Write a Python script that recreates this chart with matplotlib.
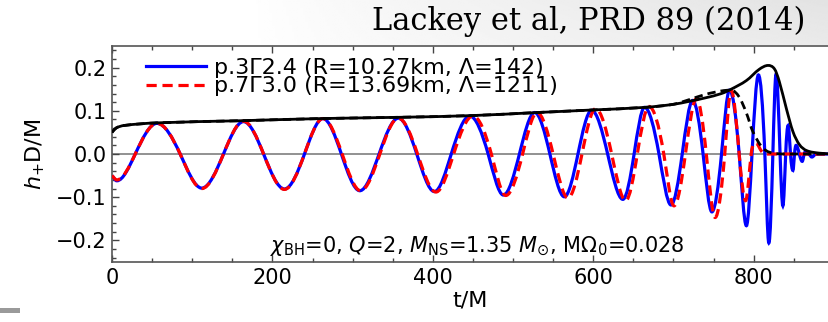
import numpy as np
import matplotlib
matplotlib.use("Agg")
import matplotlib.pyplot as plt
from matplotlib.path import Path
from matplotlib.patches import PathPatch, Rectangle
from matplotlib.lines import Line2D
from matplotlib.ticker import MultipleLocator, FixedLocator

# waveform extrema and zero crossings (t/M, h+ D/M)
t_blue = [0, 6, 29, 56, 85, 112, 139, 164, 189, 215, 240, 263, 286, 309, 333, 357,
          380, 402, 423, 446, 469, 488, 508, 527, 546, 564, 581, 598, 618, 637, 651,
          664, 682, 697, 711, 724, 737, 748, 760, 770, 782, 791, 798, 806, 814, 819,
          824, 828, 833, 836.5, 840, 843, 846, 849, 851, 853, 857, 860.6, 863, 865,
          869, 872.7, 878, 900]
h_blue = [-0.050, -0.062, 0, 0.071, 0, -0.079, 0, 0.075, 0, -0.081, 0, 0.082, 0, -0.085, 0, 0.083,
          0, -0.087, 0, 0.088, 0, -0.095, 0, 0.096, 0, -0.099, 0, 0.101, 0, -0.105, 0,
          0.108, 0, -0.118, 0, 0.124, 0, -0.134, 0, 0.148, 0, -0.166, 0, 0.183, 0, -0.206,
          0, 0.185, 0, -0.120, 0, 0.066, 0, -0.038, 0, 0.020, 0, -0.017, 0, 0.005,
          0, -0.007, 0, 0]

t_red = [0, 6, 29, 56, 85, 112, 139, 164, 189, 215, 240, 263, 287, 310, 334, 357,
         381, 404, 426, 450, 473, 491, 512, 530, 550, 568.6, 586, 603, 623, 640.5, 655,
         669.5, 688, 700.7, 715, 728.6, 741, 752, 764, 772, 782, 790, 797, 803, 810,
         820, 900]
h_red = [-0.050, -0.060, 0, 0.071, 0, -0.080, 0, 0.076, 0, -0.082, 0, 0.082, 0, -0.085, 0, 0.083,
         0, -0.088, 0, 0.088, 0, -0.096, 0, 0.096, 0, -0.102, 0, 0.105, 0, -0.108, 0,
         0.110, 0, -0.120, 0, 0.128, 0, -0.147, 0, 0.148, 0, -0.108, 0, 0.025, 0.006,
         0, 0]

# amplitude envelopes
t_amp_blue = [0, 5, 15, 55, 160, 260, 360, 450, 530, 600, 665, 700, 720, 740, 760, 772,
              791, 807, 818, 826, 832, 841, 849, 857, 866, 882, 900]
a_amp_blue = [0.050, 0.060, 0.066, 0.072, 0.077, 0.082, 0.085, 0.089, 0.096, 0.102, 0.108,
              0.115, 0.122, 0.130, 0.140, 0.150, 0.170, 0.196, 0.205, 0.197, 0.168, 0.104,
              0.052, 0.022, 0.008, 0.002, 0]
t_amp_red = [0, 5, 15, 55, 160, 260, 360, 450, 530, 600, 665, 700, 720, 740, 760, 772,
             782, 791, 799, 810, 820, 840, 900]
a_amp_red = [0.050, 0.060, 0.066, 0.072, 0.077, 0.082, 0.085, 0.089, 0.096, 0.102, 0.108,
             0.115, 0.126, 0.138, 0.146, 0.148, 0.132, 0.095, 0.052, 0.017, 0.004, 0, 0]

label_blue = "p.3\u03932.4 (R=10.27km, \u039b=142)"
label_red = "p.7\u03933.0 (R=13.69km, \u039b=1211)"


def smooth_path(t, h, k=1.5):
    # cubic Bezier through the read points (flat at extrema)
    t = np.asarray(t, float)
    h = np.asarray(h, float)
    m = np.zeros_like(h)
    m[0] = (h[1] - h[0]) / (t[1] - t[0])
    m[-1] = (h[-1] - h[-2]) / (t[-1] - t[-2])
    for i in range(1, len(t) - 1):
        if (h[i] - h[i - 1]) * (h[i + 1] - h[i]) > 0:
            m[i] = k * (h[i + 1] - h[i - 1]) / (t[i + 1] - t[i - 1])
    verts = [(t[0], h[0])]
    codes = [Path.MOVETO]
    for i in range(len(t) - 1):
        dt = t[i + 1] - t[i]
        verts += [(t[i] + dt / 3, h[i] + m[i] * dt / 3),
                  (t[i + 1] - dt / 3, h[i + 1] - m[i + 1] * dt / 3),
                  (t[i + 1], h[i + 1])]
        codes += [Path.CURVE4] * 3
    return Path(verts, codes)


fig = plt.figure(figsize=(8.29, 3.22), dpi=100)

# slide header
hax = fig.add_axes([0, 1 - 45 / 322, 1, 45 / 322])
fx = np.linspace(0, 1, 300)
fy = np.linspace(0, 1, 40)
gx, gy = np.meshgrid(fx, fy)
shade = 1 - 0.11 * np.clip((gx - 0.3) / 0.7, 0, 1) ** 0.8 * (0.75 + 0.25 * gy)
hax.imshow(shade, cmap="gray", vmin=0, vmax=1, aspect="auto", origin="lower",
           extent=[0, 1, 0, 1])
hax.axis("off")
fig.text(0.972, 1 - 30 / 322, "Lackey et al, PRD 89 (2014)", ha="right", va="baseline",
         family="DejaVu Serif", fontsize=22)
fig.patches.append(Rectangle((0, 1 - 313 / 322), 20 / 829, 5 / 322, transform=fig.transFigure,
                             color="#9a9a9a", lw=0))

ax = fig.add_axes([112 / 829, 1 - 262 / 322, 1 - 112 / 829, (262 - 46) / 322])
ax.axhline(0, color="#7f7f7f", lw=1.2, zorder=1)

ax.add_patch(PathPatch(smooth_path(t_blue, h_blue), fill=False, edgecolor="#0000ff",
                       lw=2.3, zorder=2))
ax.add_patch(PathPatch(smooth_path(t_red, h_red), fill=False, edgecolor="#ff0000",
                       lw=2.3, linestyle=(0, (3.2, 1.8)), zorder=3))
ax.add_patch(PathPatch(smooth_path(t_amp_blue, a_amp_blue, 1.0), fill=False, edgecolor="black",
                       lw=2.0, zorder=4))
ax.add_patch(PathPatch(smooth_path(t_amp_red, a_amp_red, 1.0), fill=False, edgecolor="black",
                       lw=2.0, linestyle=(0, (3.0, 1.8)), zorder=5))

ax.set_xlim(0, 894)
ax.set_ylim(-0.25, 0.25)
ax.xaxis.set_major_locator(MultipleLocator(200))
ax.xaxis.set_minor_locator(MultipleLocator(50))
ax.yaxis.set_major_locator(FixedLocator([-0.2, -0.1, 0.0, 0.1, 0.2]))
ax.yaxis.set_minor_locator(MultipleLocator(0.02))
ax.set_yticklabels(["\u22120.2", "\u22120.1", "0.0", "0.1", "0.2"])
ax.tick_params(which="both", direction="in", top=True, right=False, labelsize=15,
               width=1.0, color="#444444")
ax.tick_params(which="major", length=5, pad=4)
ax.tick_params(which="minor", length=3)
ax.spines["right"].set_visible(False)
for s in ["left", "bottom", "top"]:
    ax.spines[s].set_linewidth(1.2)
    ax.spines[s].set_color("#555555")

ax.set_xlabel("t/M", fontsize=16, labelpad=2)
ax.set_ylabel(r"$h_{+}$D/M", fontsize=16, labelpad=6)

ax.text(455, -0.226, r"$\chi_{\mathrm{BH}}$=0, $Q$=2, $M_{\mathrm{NS}}$=1.35 $M_{\odot}$, M$\Omega_0$=0.028",
        ha="center", va="baseline", fontsize=15, zorder=6)

handles = [Line2D([], [], color="#0000ff", lw=2.3),
           Line2D([], [], color="#ff0000", lw=2.3, linestyle=(0, (3.2, 1.8)))]
ax.legend(handles, [label_blue, label_red], loc="upper left", bbox_to_anchor=(0.03, 1.0),
          frameon=False, fontsize=16, handlelength=2.7, handletextpad=0.35,
          labelspacing=-0.08, borderaxespad=0.15)

fig.savefig("out.png", dpi=100)
